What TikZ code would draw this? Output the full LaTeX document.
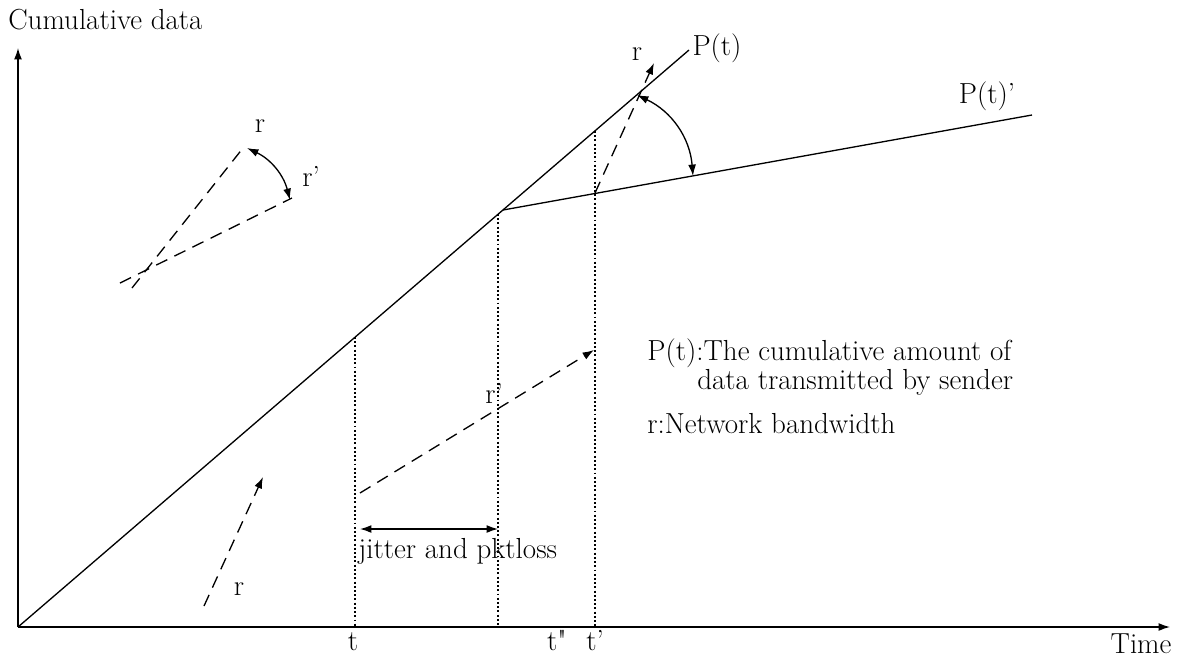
\documentclass[tikz,border=0pt]{standalone}
\usetikzlibrary{positioning, arrows.meta}

\begin{document}
\begin{tikzpicture}[
  x=0.02cm, y=-0.02cm,
  >={Latex[length=6.5pt, width=4.5pt]},
  axis/.style={->, line width=0.75pt},
  curve/.style={line width=0.75pt},
  rate/.style={line width=0.75pt, dash pattern=on 7pt off 4.5pt},
  guide/.style={line width=0.7pt, dash pattern=on 1.1pt off 1.3pt},
  swing/.style={<->, line width=0.75pt},
  lbl/.style={font=\fontsize{16.5}{19}\selectfont, inner sep=0pt, anchor=base},
]
\useasboundingbox (0,0) rectangle (1179,657);

% ---- Axes ----
\coordinate (o) at (18,627);
\coordinate (xend) at (1170,627);
\coordinate (yend) at (18,48);
\draw[axis] (o) -- (xend);
\draw[axis] (o) -- (yend);
\node[lbl, anchor=base west] (ylbl) at (8,29) {Cumulative data};
\node[lbl] (xlbl) at (1141,653) {Time};

% ---- P(t) and P(t)' ----
\coordinate (ptend) at (689,50);
\coordinate (kink) at (503,210);
\coordinate (pqend) at (1032,115);
\draw[curve] (o) -- (ptend);
\draw[curve] (kink) -- (pqend);
\node[lbl] (ptlbl) at (717,55) {P(t)};
\node[lbl] (pqlbl) at (987,103) {P(t)'};

% ---- time marks ----
\coordinate (ta) at (355,337);
\coordinate (tb) at (498,214);
\coordinate (tc) at (595,131);
\coordinate (ta0) at (355,627);
\coordinate (tb0) at (498,627);
\coordinate (tc0) at (595,627);
\draw[guide] (ta) -- (ta0);
\draw[guide] (tb) -- (tb0);
\draw[guide] (tc) -- (tc0);
\node[lbl] (tlbl) at (353,650) {t};
\node[lbl] (tbl) at (557,650) {t\textquotedbl{}};
\node[lbl] (tcl) at (595,650) {t'};

% ---- jitter span ----
\coordinate (ja) at (360,529);
\coordinate (jb) at (498,529);
\draw[swing] (ja) -- (jb);
\node[lbl, anchor=base west] (jlbl) at (358,558) {jitter and pktloss};

% ---- rates ----
\coordinate (ra) at (204,606);
\coordinate (rb) at (263,477);
\draw[rate, ->] (ra) -- (rb);
\node[lbl] (rlbl) at (239,595) {r};

\coordinate (qa) at (360,493);
\coordinate (qb) at (594,350);
\draw[rate, ->] (qa) -- (qb);
\node[lbl] (qlbl) at (494,403) {r'};

\coordinate (ua) at (595,193);
\coordinate (ub) at (654,63);
\draw[rate, ->] (ua) -- (ub);
\node[lbl] (ulbl) at (637,60) {r};

\coordinate (sa) at (637,95);
\coordinate (sb) at (693,176);
\draw[swing] (sa) to[bend left=30] (sb);

% ---- angle sketch ----
\coordinate (la) at (132,288);
\coordinate (lb) at (243,148);
\coordinate (ma) at (120,283);
\coordinate (mb) at (292,198);
\draw[rate] (la) -- (lb);
\draw[rate] (ma) -- (mb);
\coordinate (ka) at (247,148);
\coordinate (kb) at (290,200);
\draw[swing] (ka) to[bend left=25] (kb);
\node[lbl] (klbl) at (260,132) {r};
\node[lbl] (kqlbl) at (311,186) {r'};

% ---- legend ----
\node[lbl, anchor=base west] (leg1) at (647,360) {P(t):The cumulative amount of};
\node[lbl, anchor=base west] (leg2) at (697,389) {data transmitted by sender};
\node[lbl, anchor=base west] (leg3) at (647,433) {r:Network bandwidth};

\end{tikzpicture}
\end{document}
